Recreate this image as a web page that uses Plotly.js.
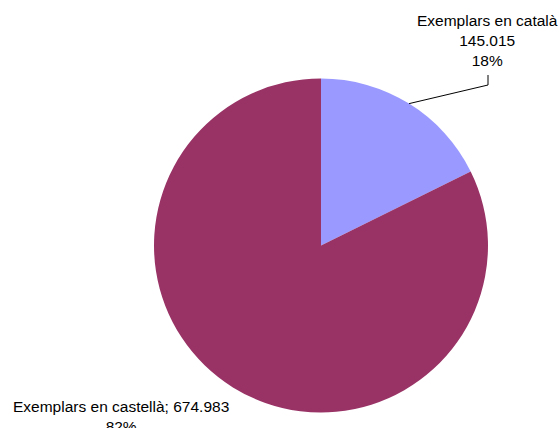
<!DOCTYPE html>
<html>
<head>
<meta charset="utf-8">
<script src="https://cdn.plot.ly/plotly-3.0.1.min.js"></script>
<style>html,body{margin:0;padding:0;background:#fff}#chart{width:560px;height:428px}</style>
</head>
<body>
<div id="chart"></div>
<script>
var categories = ["Exemplars en català", "Exemplars en castellà"];
var values = [145015, 674983];
var colors = ["#9999FF", "#993366"];

var W = 560, H = 428;
var cx = 321, cy = 245.5, R = 167;

function fmt(n) { return String(n).replace(/\B(?=(\d{3})+(?!\d))/g, "."); }
var total = values.reduce(function (a, b) { return a + b; }, 0);
var pct = values.map(function (v) { return Math.round(100 * v / total) + "%"; });

function px(x) { return x / W; }
function py(y) { return 1 - y / H; }

// leader line end on the rim at the mid-angle of the first slice
var mid = Math.PI * values[0] / total;
var ex = cx + R * Math.sin(mid), ey = cy - R * Math.cos(mid);

var font = { family: "Liberation Sans, Arial, sans-serif", size: 15.5, color: "#000" };

var data = [{
  type: "pie",
  labels: categories,
  values: values,
  sort: false,
  direction: "clockwise",
  rotation: 0,
  textinfo: "none",
  hoverinfo: "label+value+percent",
  marker: { colors: colors, line: { width: 0 } },
  domain: { x: [px(cx - R), px(cx + R)], y: [py(cy + R), py(cy - R)] },
  showlegend: false
}];

var layout = {
  width: W, height: H,
  margin: { l: 0, r: 0, t: 0, b: 0 },
  paper_bgcolor: "#fff",
  showlegend: false,
  font: font,
  annotations: [
    {
      xref: "paper", yref: "paper", x: px(487.5), y: py(40),
      xanchor: "center", yanchor: "middle", align: "center",
      text: categories[0] + "<br>" + fmt(values[0]) + "<br>" + pct[0],
      showarrow: false, font: font
    },
    {
      xref: "paper", yref: "paper", x: px(121), y: py(416),
      xanchor: "center", yanchor: "middle", align: "center",
      text: categories[1] + "; " + fmt(values[1]) + "<br>" + pct[1],
      showarrow: false, font: font
    }
  ],
  shapes: [{
    type: "path", xref: "paper", yref: "paper",
    path: "M " + px(ex) + "," + py(ey) + " L " + px(488) + "," + py(85) + " L " + px(488) + "," + py(75),
    line: { color: "#000", width: 1 }
  }]
};

Plotly.newPlot("chart", data, layout, { displayModeBar: false, staticPlot: true });
</script>
</body>
</html>
